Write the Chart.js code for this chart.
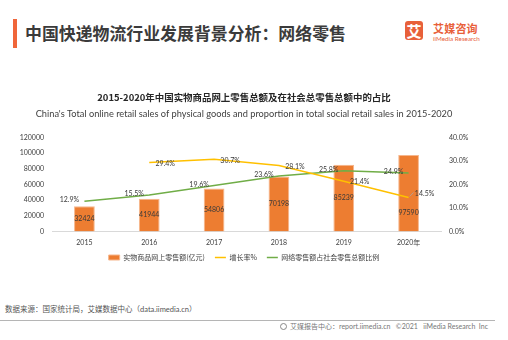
<!DOCTYPE html>
<html>
<head>
<meta charset="utf-8">
<script src="https://cdn.jsdelivr.net/npm/chart.js@4"></script>
<style>
  body { margin: 0; width: 508px; height: 340px; background: #fff; position: relative; overflow: hidden;
         font-family: Lato, "Noto Sans CJK SC", sans-serif; }
  .abs { position: absolute; white-space: nowrap; }
  #mark { left: 13px; top: 19px; width: 4px; height: 29px; background: #f0663a; }
  #head { left: 25px; top: 21px; font-size: 16.9px; line-height: 24px; font-weight: bold; color: #3b3b3b;
          font-family: "Noto Sans CJK SC", sans-serif; }
  #logoBox { left: 405px; top: 21px; width: 18px; height: 19px; background: #e8603a; border-radius: 3px;
             color: #fff; font: bold 15px/19px "Noto Sans CJK SC", sans-serif; text-align: center; }
  #logoCn { left: 433px; top: 21px; font: bold 11px/14px "Noto Sans CJK SC", sans-serif; color: #e8603a; letter-spacing: 0.2px; }
  #logoEn { left: 433px; top: 35px; font: 6.3px/8px Lato, sans-serif; color: #e8603a; }
  #chartBox { left: 0; top: 85px; width: 508px; height: 202px; }
  #source { left: 5px; top: 305px; font-size: 7.5px; line-height: 10px; color: #555; }
  #rule { left: 0; top: 320px; width: 495px; height: 1px; background: #b5b5b5; }
  #foot { left: 280px; top: 322px; font-size: 7px; line-height: 9px; color: #777; }
  #foot span { display: inline-block; width: 7px; height: 7px; border: 1px solid #888; border-radius: 50%;
               box-sizing: border-box; vertical-align: -1px; margin-right: 3px; }
</style>
</head>
<body>
<div class="abs" id="mark"></div>
<div class="abs" id="head">中国快递物流行业发展背景分析：网络零售</div>
<div class="abs" id="logoBox">艾</div>
<div class="abs" id="logoCn">艾媒咨询</div>
<div class="abs" id="logoEn">iiMedia Research</div>
<div class="abs" id="chartBox"><canvas id="myChart"></canvas></div>
<div class="abs" id="source">数据来源：国家统计局，艾媒数据中心（data.iimedia.cn）</div>
<div class="abs" id="rule"></div>
<div class="abs" id="foot"><span></span>艾媒报告中心：report.iimedia.cn&nbsp;&nbsp; ©2021&nbsp;&nbsp; iiMedia Research&nbsp; Inc</div>

<script>
const years = ['2015', '2016', '2017', '2018', '2019', '2020年'];
const retailSales = [32424, 41944, 54806, 70198, 85239, 97590];   // 亿元
const growthRate = [null, 29.4, 30.7, 28.1, 21.4, 14.5];          // %
const onlineShare = [12.9, 15.5, 19.6, 23.6, 25.8, 24.9];         // %
const salesTicks = [0, 20000, 40000, 60000, 80000, 100000, 120000];
const shareTicks = [0, 10, 20, 30, 40];

const labelFont = '7px Lato, "Noto Sans CJK SC", sans-serif';

// writes the value next to every bar / point
const valueLabels = {
  id: 'valueLabels',
  afterDatasetsDraw(chart) {
    const ctx = chart.ctx;
    ctx.save();
    ctx.font = labelFont;
    ctx.fillStyle = '#3a3a3a';
    ctx.textAlign = 'center';
    ctx.textBaseline = 'middle';
    chart.data.datasets.forEach((ds, i) => {
      const meta = chart.getDatasetMeta(i);
      const lab = ds.valueLabel;
      meta.data.forEach((el, j) => {
        const v = ds.data[j];
        if (v == null) return;
        const shift = (lab.shift && lab.shift[j]) || [0, 0];
        let x = el.x + lab.dx + shift[0];
        let y = (meta.type === 'bar' ? (el.y + el.base) / 2 : el.y) + lab.dy + shift[1];
        if (lab.leader && lab.leader.includes(j)) {
          ctx.strokeStyle = '#a6a6a6';
          ctx.lineWidth = 0.8;
          ctx.beginPath();
          ctx.moveTo(el.x + 1, el.y - 1);
          ctx.lineTo(el.x + 5, el.y - 5);
          ctx.stroke();
        }
        ctx.fillText(lab.fmt(v), x, y);
      });
    });
    ctx.restore();
  }
};

// pull the legend row up closer to the axis labels
const legendNudge = {
  id: 'legendNudge',
  afterLayout(chart) {
    const l = chart.legend;
    l.top -= 10;
    l.bottom -= 10;
  }
};

new Chart(document.getElementById('myChart'), {
  type: 'bar',
  data: {
    labels: years,
    datasets: [{
      label: '实物商品网上零售额(亿元)',
      data: retailSales,
      backgroundColor: '#ed7d31',
      borderColor: '#f6b68c',
      borderWidth: 1,
      barPercentage: 0.32,
      categoryPercentage: 1,
      yAxisID: 'y',
      order: 2,
      pointStyle: 'rect',
      valueLabel: { dx: 0, dy: 0, fmt: v => String(v), shift: { 5: [0, 19] } }
    }, {
      type: 'line',
      label: '增长率%',
      data: growthRate,
      borderColor: '#ffc000',
      backgroundColor: '#ffc000',
      borderWidth: 1.5,
      pointRadius: 0,
      yAxisID: 'y1',
      order: 0,
      pointStyle: 'line',
      valueLabel: { dx: 16, dy: 1, fmt: v => v.toFixed(1) + '%', shift: { 5: [0, -5] }, leader: [5] }
    }, {
      type: 'line',
      label: '网络零售额占社会零售总额比例',
      data: onlineShare,
      borderColor: '#70ad47',
      backgroundColor: '#70ad47',
      borderWidth: 1.5,
      pointRadius: 0,
      yAxisID: 'y1',
      order: 1,
      pointStyle: 'line',
      valueLabel: { dx: -15, dy: -1, fmt: v => v.toFixed(1) + '%' }
    }]
  },
  options: {
    responsive: true,
    maintainAspectRatio: false,
    animation: false,
    layout: { padding: { left: 0, right: 20, top: 0, bottom: 6 } },
    plugins: {
      tooltip: { enabled: false },
      title: {
        display: true,
        text: '2015-2020年中国实物商品网上零售总额及在社会总零售总额中的占比',
        color: '#262626',
        font: { family: '"Noto Sans CJK SC", sans-serif', size: 9.45, weight: 'bold' },
        padding: { top: 7, bottom: 4 }
      },
      subtitle: {
        display: true,
        text: "China's Total online retail sales of physical goods and proportion in total social retail sales in 2015-2020",
        color: '#404040',
        font: { family: 'Lato, sans-serif', size: 9.24 },
        padding: { top: 1, bottom: 18 }
      },
      legend: {
        position: 'bottom',
        labels: {
          usePointStyle: true,
          pointStyleWidth: 11,
          boxHeight: 5,
          padding: 10,
          color: '#404040',
          font: { family: '"Noto Sans CJK SC", sans-serif', size: 7 },
          sort: (a, b) => a.datasetIndex - b.datasetIndex
        }
      }
    },
    scales: {
      x: {
        grid: { display: false, drawTicks: false },
        border: { color: '#d9d9d9' },
        ticks: { color: '#404040', font: { family: 'Lato, "Noto Sans CJK SC", sans-serif', size: 7 }, padding: 7 }
      },
      y: {
        position: 'left',
        min: salesTicks[0],
        max: salesTicks[salesTicks.length - 1],
        afterBuildTicks: axis => { axis.ticks = salesTicks.map(v => ({ value: v })); },
        afterFit: axis => { axis.width = 52; },
        grid: { display: false, drawTicks: false },
        border: { display: false },
        ticks: { color: '#404040', font: { family: 'Lato, sans-serif', size: 7 }, padding: 8,
                 callback: v => String(v) }
      },
      y1: {
        position: 'right',
        min: shareTicks[0],
        max: shareTicks[shareTicks.length - 1],
        afterBuildTicks: axis => { axis.ticks = shareTicks.map(v => ({ value: v })); },
        afterFit: axis => { axis.width = 47; },
        grid: { display: false, drawTicks: false },
        border: { display: false },
        ticks: { color: '#404040', font: { family: 'Lato, sans-serif', size: 7 }, padding: 8,
                 callback: v => v.toFixed(1) + '%' }
      }
    }
  },
  plugins: [valueLabels, legendNudge]
});
</script>
</body>
</html>
